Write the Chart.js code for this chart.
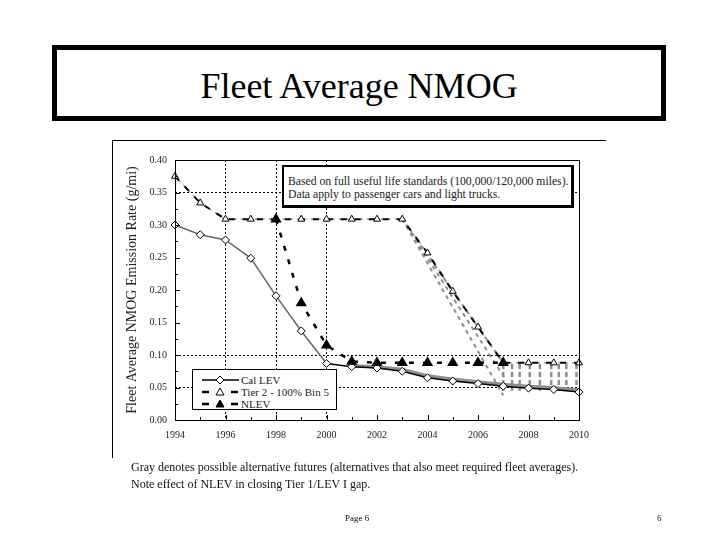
<!DOCTYPE html>
<html>
<head>
<meta charset="utf-8">
<script src="https://cdn.jsdelivr.net/npm/chart.js@4.4.0/dist/chart.umd.min.js"></script>
<style>
    body { margin: 0; width: 720px; height: 540px; background: #fff; position: relative; overflow: hidden; font-family: "Liberation Serif", serif; color: #000; }
    #titleBox { position: absolute; left: 52px; top: 45px; width: 614px; height: 76px; border: 5px solid #000; box-sizing: border-box; text-align: center; font-size: 36px; line-height: 72px; }
    #frameLeft { position: absolute; left: 112px; top: 140px; width: 0; height: 318px; border-left: 1px solid #000; }
    #frameTop { position: absolute; left: 112px; top: 140px; width: 494px; height: 0; border-top: 1px solid #000; }
    #chart { position: absolute; left: 0; top: 0; }
    #noteBox { position: absolute; left: 282px; top: 165px; width: 292px; height: 43px; box-sizing: border-box; border: 2px solid #000; border-right-width: 3px; border-bottom-width: 3px; background: #fff; padding: 9px 0 0 4px; font-size: 11.7px; line-height: 12.5px; color: #222; white-space: nowrap; }
    #legendBox { position: absolute; left: 192px; top: 369px; width: 145px; height: 41px; box-sizing: border-box; border: 1px solid #000; background: #fff; }
    .lg { position: absolute; left: 7px; height: 12px; font-size: 11px; line-height: 12px; color: #222; white-space: nowrap; }
    .lg svg { vertical-align: top; }
    .lg span { position: absolute; left: 41px; top: 0; }
    .cap { position: absolute; left: 131px; font-size: 12px; color: #111; white-space: nowrap; }
    .pg { position: absolute; font-size: 9px; color: #111; }
</style>
</head>
<body>
<div id="titleBox">Fleet Average NMOG</div>
<div id="frameLeft"></div>
<div id="frameTop"></div>
<canvas id="chart" width="720" height="540"></canvas>
<div id="noteBox">Based on full useful life standards (100,000/120,000 miles).<br>Data apply to passenger cars and light trucks.</div>
<div id="legendBox">
    <div class="lg" style="top:4px"><svg width="40" height="12"><line x1="2" y1="6" x2="39" y2="6" stroke="#000" stroke-width="1.5"/><polygon points="20,2 24,6 20,10 16,6" fill="#fff" stroke="#000"/></svg><span>Cal LEV</span></div>
    <div class="lg" style="top:16px"><svg width="40" height="12"><line x1="2" y1="6" x2="9" y2="6" stroke="#000" stroke-width="2.5"/><line x1="31" y1="6" x2="38" y2="6" stroke="#000" stroke-width="2.5"/><polygon points="20,2 24,9 16,9" fill="#fff" stroke="#000"/></svg><span>Tier 2 - 100% Bin 5</span></div>
    <div class="lg" style="top:28px"><svg width="40" height="12"><line x1="2" y1="6" x2="9" y2="6" stroke="#000" stroke-width="2.5"/><line x1="31" y1="6" x2="38" y2="6" stroke="#000" stroke-width="2.5"/><polygon points="20,2 24,9 16,9" fill="#000" stroke="#000"/></svg><span>NLEV</span></div>
</div>
<div class="cap" style="top:460px">Gray denotes possible alternative futures (alternatives that also meet required fleet averages).</div>
<div class="cap" style="top:477px">Note effect of NLEV in closing Tier 1/LEV I gap.</div>
<div class="pg" style="left:345px; top:513px">Page 6</div>
<div class="pg" style="left:657px; top:513px">6</div>

<script>
// datos
const years = [1994, 1995, 1996, 1997, 1998, 1999, 2000, 2001, 2002, 2003, 2004, 2005, 2006, 2007, 2008, 2009, 2010];
const calLev = [0.300, 0.285, 0.277, 0.249, 0.191, 0.137, 0.087, 0.082, 0.080, 0.075, 0.065, 0.060, 0.056, 0.052, 0.049, 0.047, 0.043];
const tier2 = [0.375, 0.334, 0.309, 0.309, 0.309, 0.309, 0.309, 0.309, 0.309, 0.309, 0.257, 0.198, 0.143, 0.088, 0.088, 0.088, 0.088];
const nlev = [null, null, null, null, 0.309, 0.180, 0.115, 0.090, 0.088, 0.088, 0.088, 0.088, 0.088, 0.088, null, null, null];

// alternativas en gris
const altLevYears = [2001, 2002, 2003, 2004, 2005, 2006, 2007, 2008, 2009, 2010];
const altLevValues = [0.084, 0.082, 0.078, 0.068, 0.063, 0.059, 0.055, 0.052, 0.050, 0.046];
const altFromYear = [2003, 2003, 2003];
const altFromValue = [0.309, 0.309, 0.309];
const altToYear = [2007, 2007.1, 2007];
const altToValue = [0.088, 0.062, 0.038];
const altBarYears = [2007.0, 2007.35, 2007.65, 2008.05, 2008.45, 2008.9, 2009.2, 2009.5, 2009.9];
const altBarTop = 0.086;
const altBarBottom = 0.045;

// ticks y rejilla
const xTicks = [1994, 1996, 1998, 2000, 2002, 2004, 2006, 2008, 2010];
const yTicks = [0.00, 0.05, 0.10, 0.15, 0.20, 0.25, 0.30, 0.35, 0.40];
const xGridShown = [1996, 1998, 2000];
const yGridShown = [0.35, 0.10, 0.05];

const toPts = (xs, ys) => xs.map((x, i) => ({ x: x, y: ys[i] }));
const near = (list, v) => list.some(g => Math.abs(g - v) < 1e-6);

const GRAY = '#8e8e8e';

const altLines = altFromYear.map((x0, i) => ({
    data: [{ x: x0, y: altFromValue[i] }, { x: altToYear[i], y: altToValue[i] }],
    borderColor: GRAY, borderWidth: 2, borderDash: [4, 4], pointRadius: 0, order: 10
}));

const barPts = [];
altBarYears.forEach(x => {
    barPts.push({ x: x, y: altBarTop }, { x: x, y: altBarBottom }, { x: x, y: null });
});

const frameAndTicks = {
    id: 'frameAndTicks',
    afterDraw(chart) {
        const { ctx, chartArea: a, scales: { x, y } } = chart;
        ctx.save();
        ctx.strokeStyle = '#000';
        ctx.lineWidth = 1;
        ctx.strokeRect(a.left + 0.5, a.top + 0.5, a.right - a.left, a.bottom - a.top);
        ctx.beginPath();
        for (let k = 0; k <= 16; k++) {
            const py = Math.round(y.getPixelForValue(k * 0.025)) + 0.5;
            const len = k % 2 === 0 ? 5 : 3;
            ctx.moveTo(a.left, py); ctx.lineTo(a.left + len, py);
        }
        for (let yr = 1994; yr <= 2010; yr++) {
            const px = Math.round(x.getPixelForValue(yr)) + 0.5;
            const len = yr % 2 === 0 ? 5 : 3;
            ctx.moveTo(px, a.bottom); ctx.lineTo(px, a.bottom - len);
        }
        ctx.stroke();
        ctx.restore();
    }
};

new Chart(document.getElementById('chart'), {
    type: 'line',
    data: {
        datasets: [
            {
                label: 'NLEV', data: toPts(years, nlev), order: 1, clip: false,
                borderColor: '#000', borderWidth: 2.5, borderDash: [5, 9],
                pointStyle: 'triangle', pointRadius: 4, pointBackgroundColor: '#000', pointBorderColor: '#000'
            },
            {
                label: 'Cal LEV', data: toPts(years, calLev), order: 2, clip: false,
                borderColor: '#666', borderWidth: 1.5,
                segment: { borderColor: c => c.p0.parsed.x >= 2000 ? '#000' : '#666' },
                pointStyle: 'rectRot', pointRadius: 4, pointBackgroundColor: '#fff', pointBorderColor: '#000', pointBorderWidth: 1
            },
            {
                label: 'Tier 2 - 100% Bin 5', data: toPts(years, tier2), order: 3, clip: false,
                borderColor: '#000', borderWidth: 2, borderDash: [6, 8],
                pointStyle: 'triangle', pointRadius: 4, pointBackgroundColor: '#fff', pointBorderColor: '#000', pointBorderWidth: 1
            },
            {
                label: 'tier2 base', data: toPts(years, tier2), order: 4,
                borderColor: GRAY, borderWidth: 1.2, borderDash: [3, 4], borderDashOffset: 9, pointRadius: 0
            },
            {
                label: 'alt lev', data: toPts(altLevYears, altLevValues), order: 9,
                borderColor: GRAY, borderWidth: 3, pointRadius: 0
            },
            ...altLines,
            {
                label: 'alt bars', data: barPts, order: 11, spanGaps: false,
                borderColor: GRAY, borderWidth: 2.5, borderDash: [5, 3], pointRadius: 0
            }
        ]
    },
    options: {
        responsive: false,
        animation: false,
        events: [],
        layout: { padding: { left: 120, right: 141, top: 160, bottom: 90 } },
        plugins: { legend: { display: false }, tooltip: { enabled: false } },
        scales: {
            x: {
                type: 'linear', min: 1994, max: 2010,
                afterFit: s => { s.height = 30; },
                afterBuildTicks: s => { s.ticks = xTicks.map(v => ({ value: v })); },
                ticks: { padding: 9, color: '#222', font: { family: 'Liberation Serif', size: 10 }, callback: v => String(v) },
                grid: { drawTicks: false, lineWidth: 1, color: c => near(xGridShown, c.tick.value) ? '#000' : 'rgba(0,0,0,0)' },
                border: { display: false, dash: [2, 2] }
            },
            y: {
                min: 0, max: 0.4,
                afterFit: s => { s.width = 55; },
                afterBuildTicks: s => { s.ticks = yTicks.map(v => ({ value: v })); },
                ticks: { padding: 8, color: '#222', font: { family: 'Liberation Serif', size: 10 }, callback: v => v.toFixed(2) },
                grid: { drawTicks: false, lineWidth: 1, color: c => near(yGridShown, c.tick.value) ? '#000' : 'rgba(0,0,0,0)' },
                border: { display: false, dash: [2, 2] },
                title: { display: true, text: 'Fleet Average NMOG Emission Rate (g/mi)', color: '#222', padding: { top: 4, bottom: 0 }, font: { family: 'Liberation Serif', size: 14 } }
            }
        }
    },
    plugins: [frameAndTicks]
});
</script>
</body>
</html>
